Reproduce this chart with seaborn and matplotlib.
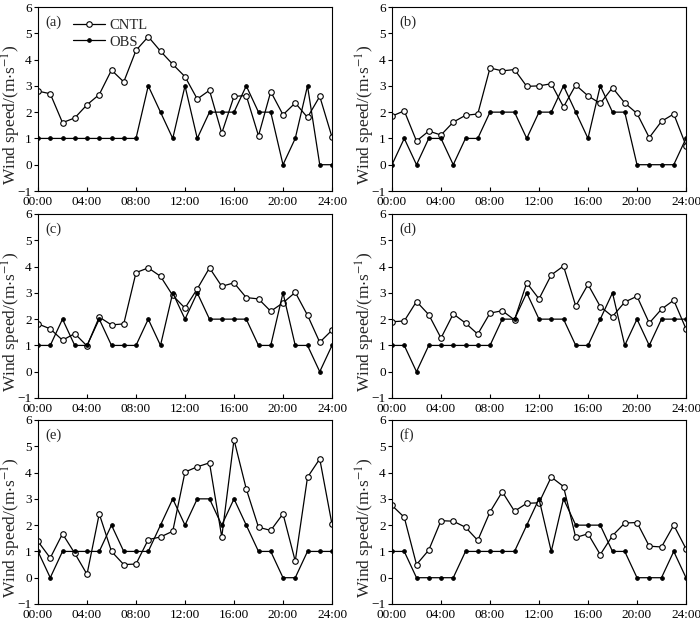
import matplotlib
matplotlib.use("Agg")
import matplotlib.pyplot as plt
import seaborn as sns
import numpy as np
import pandas as pd

hours = list(range(25))
tick_pos = [0, 4, 8, 12, 16, 20, 24]
tick_labels = ["00:00", "04:00", "08:00", "12:00", "16:00", "20:00", "24:00"]
panel_labels = ["(a)", "(b)", "(c)", "(d)", "(e)", "(f)"]

cntl_a = [2.8, 2.7, 1.6, 1.78, 2.28, 2.67, 3.6, 3.15, 4.35, 4.87, 4.32, 3.82, 3.35, 2.5, 2.83, 1.2, 2.6, 2.63, 1.1, 2.78, 1.9, 2.35, 1.8, 2.6, 1.05]
obs_a = [1, 1, 1, 1, 1, 1, 1, 1, 1, 3, 2, 1, 3, 1, 2, 2, 2, 3, 2, 2, 0, 1, 3, 0, 0]
cntl_b = [1.85, 2.05, 0.9, 1.28, 1.13, 1.62, 1.88, 1.93, 3.68, 3.57, 3.62, 2.98, 3.0, 3.08, 2.2, 3.03, 2.62, 2.33, 2.93, 2.35, 1.95, 1.03, 1.65, 1.93, 0.73]
obs_b = [0, 1, 0, 1, 1, 0, 1, 1, 2, 2, 2, 1, 2, 2, 3, 2, 1, 3, 2, 2, 0, 0, 0, 0, 1]
cntl_c = [1.82, 1.63, 1.2, 1.45, 0.98, 2.08, 1.78, 1.82, 3.77, 3.95, 3.63, 2.9, 2.42, 3.15, 3.95, 3.25, 3.38, 2.82, 2.77, 2.3, 2.62, 3.02, 2.15, 1.12, 1.58]
obs_c = [1, 1, 2, 1, 1, 2, 1, 1, 1, 2, 1, 3, 2, 3, 2, 2, 2, 2, 1, 1, 3, 1, 1, 0, 1]
cntl_d = [1.9, 1.93, 2.67, 2.17, 1.28, 2.2, 1.85, 1.43, 2.23, 2.32, 1.97, 3.38, 2.77, 3.68, 4.02, 2.5, 3.32, 2.48, 2.1, 2.65, 2.87, 1.85, 2.38, 2.72, 1.63]
obs_d = [1, 1, 0, 1, 1, 1, 1, 1, 1, 2, 2, 3, 2, 2, 2, 1, 1, 2, 3, 1, 2, 1, 2, 2, 2]
cntl_e = [1.38, 0.75, 1.67, 0.93, 0.13, 2.43, 1.0, 0.5, 0.52, 1.45, 1.55, 1.77, 4.02, 4.22, 4.37, 1.55, 5.25, 3.38, 1.92, 1.8, 2.43, 0.63, 3.82, 4.52, 2.03]
obs_e = [1, 0, 1, 1, 1, 1, 2, 1, 1, 1, 2, 3, 2, 3, 3, 2, 3, 2, 1, 1, 0, 0, 1, 1, 1]
cntl_f = [2.75, 2.3, 0.5, 1.05, 2.17, 2.15, 1.92, 1.42, 2.5, 3.27, 2.53, 2.83, 2.85, 3.83, 3.47, 1.53, 1.67, 0.88, 1.6, 2.08, 2.1, 1.2, 1.17, 2.0, 1.1]
obs_f = [1, 1, 0, 0, 0, 0, 1, 1, 1, 1, 1, 2, 3, 1, 3, 2, 2, 2, 1, 1, 0, 0, 0, 1, 0]

cntl_all = [cntl_a, cntl_b, cntl_c, cntl_d, cntl_e, cntl_f]
obs_all = [obs_a, obs_b, obs_c, obs_d, obs_e, obs_f]

sns.set_theme(style="ticks")
plt.rcParams['font.family'] = ['Liberation Serif', 'DejaVu Serif']
plt.rcParams['mathtext.fontset'] = 'stix'
plt.rcParams['font.size'] = 10

fig = plt.figure(figsize=(7.0, 6.23), dpi=100)
W, H = 700, 623
lefts = [38, 392]
width = 294
tops = [7, 214, 420]
height = 184

for i in range(6):
    r, c = divmod(i, 2)
    ax = fig.add_axes([lefts[c] / W, 1 - (tops[r] + height) / H, width / W, height / H])
    df = pd.DataFrame({"hour": hours, "CNTL": cntl_all[i], "OBS": obs_all[i]})
    sns.lineplot(data=df, x="hour", y="CNTL", ax=ax, color="black", lw=0.9,
                 marker="o", markersize=4, markerfacecolor="white",
                 markeredgecolor="black", markeredgewidth=0.8, label="CNTL", legend=False)
    sns.lineplot(data=df, x="hour", y="OBS", ax=ax, color="black", lw=0.9,
                 marker="o", markersize=2.6, markerfacecolor="black",
                 markeredgecolor="black", label="OBS", legend=False)
    ax.set_xlim(0, 24)
    ax.set_ylim(-1, 6)
    ax.set_xticks(tick_pos)
    ax.set_xticklabels(tick_labels)
    ax.set_yticks(range(-1, 7))
    ax.set_xlabel("")
    ax.set_ylabel(r"Wind speed/(m$\cdot$s$^{-1}$)", fontsize=12.5)
    ax.yaxis.set_label_coords(-0.05, 0.413)
    ax.tick_params(axis="y", direction="out", length=3, width=0.8, labelsize=9.5, pad=1.5, colors="black")
    ax.tick_params(axis="x", direction="in", length=3, width=0.8, labelsize=9.5, pad=3.5, colors="black")
    for s in ax.spines.values():
        s.set_linewidth(0.8)
        s.set_color("black")
    ax.text(0.025, 0.955, panel_labels[i], transform=ax.transAxes, fontsize=10.5,
            va="top", ha="left")
    if i == 0:
        ax.legend(loc="upper left", bbox_to_anchor=(0.09, 0.985), frameon=False,
                  fontsize=10.5, handlelength=2.2, borderaxespad=0.2, labelspacing=0.25,
                  handletextpad=0.3)

fig.savefig("out.png", dpi=100)
